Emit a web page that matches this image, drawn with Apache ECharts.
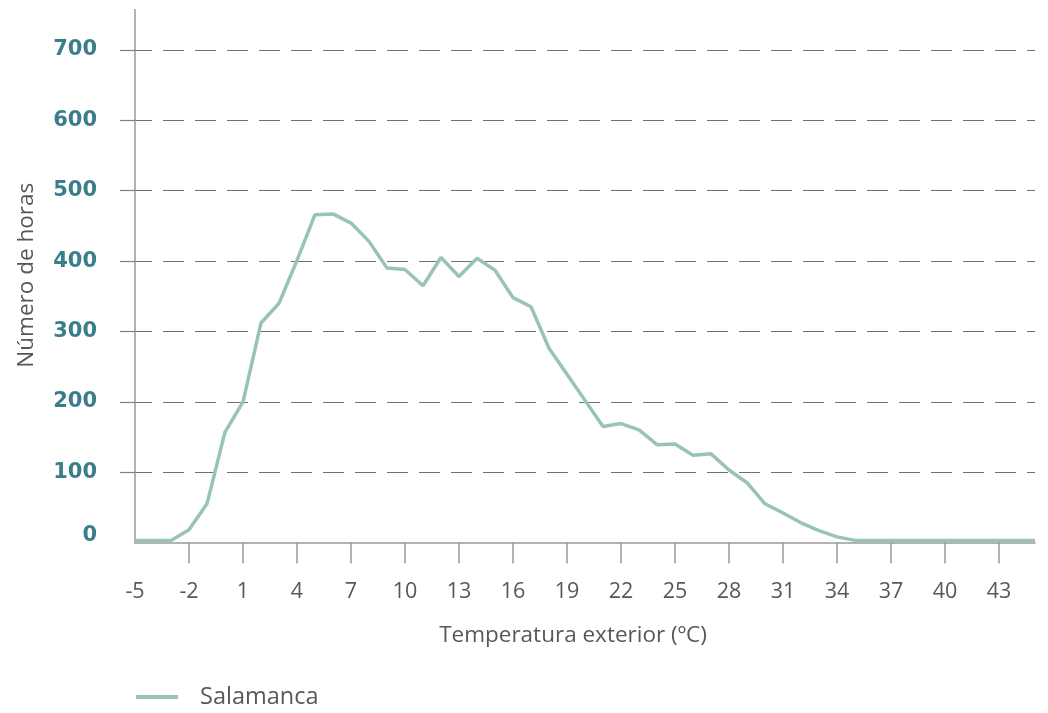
<!DOCTYPE html>
<html>
<head>
<meta charset="utf-8">
<style>
  html, body { margin: 0; padding: 0; background: #ffffff; }
  #chart { width: 1048px; height: 713px; }
</style>
<script src="https://cdn.jsdelivr.net/npm/echarts@6/dist/echarts.min.js"></script>
</head>
<body>
<div id="chart"></div>
<script>
// Outdoor temperature (ºC), one step per degree
const temperatures = [
  -5, -4, -3, -2, -1, 0, 1, 2, 3, 4,
  5, 6, 7, 8, 9, 10, 11, 12, 13, 14,
  15, 16, 17, 18, 19, 20, 21, 22, 23, 24,
  25, 26, 27, 28, 29, 30, 31, 32, 33, 34,
  35, 36, 37, 38, 39, 40, 41, 42, 43, 44, 45
];

// Hours per year at each temperature – Salamanca
const salamancaHours = [
  3, 3, 3, 18, 55, 157, 200, 312, 340, 401,
  466, 467, 454, 428, 390, 388, 365, 405, 378, 404,
  387, 348, 335, 276, 239, 202, 165, 169, 160, 139,
  140, 124, 126, 103, 85, 55, 42, 28, 17, 8,
  3, 3, 3, 3, 3, 3, 3, 3, 3, 3, 3
];

const yTicks = [0, 100, 200, 300, 400, 500, 600, 700];

const seriesName = 'Salamanca';
const xAxisTitle = 'Temperatura exterior (ºC)';
const yAxisTitle = 'Número de horas';

const lineColor = '#98c4b5';
const axisGray = '#9a9a9a';
const textGray = '#585858';
const valueTeal = '#3b7e8b';
const baseFont = '"Open Sans", Roboto, sans-serif';
const numberFont = '"DejaVu Sans", sans-serif';

const chart = echarts.init(document.getElementById('chart'), null, { renderer: 'canvas' });

const gridLeft = 135, gridTop = 50, gridRight = 13, gridBottom = 170.5;

chart.setOption({
  animation: false,
  backgroundColor: '#ffffff',
  grid: { left: gridLeft, right: gridRight, top: gridTop, bottom: gridBottom, containLabel: false },
  legend: {
    left: 136,
    top: 685,
    padding: 0,
    icon: 'rect',
    itemWidth: 42,
    itemHeight: 4,
    data: [seriesName],
    textStyle: { fontFamily: baseFont, fontSize: 23.5, color: textGray, padding: [0, 0, 0, 17] }
  },
  xAxis: {
    type: 'category',
    data: temperatures.map(String),
    boundaryGap: false,
    name: xAxisTitle,
    nameLocation: 'middle',
    nameGap: 82,
    nameTextStyle: { fontFamily: baseFont, fontSize: 22.5, color: textGray, padding: [0, 24, 0, 0] },
    axisLine: { show: true, lineStyle: { color: axisGray, width: 1.5 } },
    axisTick: {
      show: true,
      length: 21,
      interval: (i) => i > 0 && i % 3 === 0 && i < temperatures.length - 1,
      lineStyle: { color: axisGray, width: 1.5 }
    },
    axisLabel: {
      interval: (i) => i % 3 === 0 && i < temperatures.length - 1,
      margin: 38,
      fontFamily: baseFont,
      fontSize: 21.5,
      color: textGray
    },
    splitLine: { show: false }
  },
  yAxis: {
    type: 'value',
    min: yTicks[0],
    max: yTicks[yTicks.length - 1],
    interval: 100,
    name: yAxisTitle,
    nameLocation: 'middle',
    nameRotate: 90,
    nameGap: 97,
    nameTextStyle: { fontFamily: baseFont, fontSize: 22.5, color: textGray, padding: [0, 0, 0, 42] },
    axisLine: { show: true, lineStyle: { color: axisGray, width: 1.5 } },
    axisTick: {
      show: true,
      length: 15,
      customValues: yTicks.slice(1),
      lineStyle: { color: '#808080', width: 1.2 }
    },
    axisLabel: {
      margin: 38,
      fontFamily: numberFont,
      fontSize: 21,
      fontWeight: 'bold',
      color: valueTeal,
      formatter: (v) => (v === 0 ? '{z|0}' : '{n|' + v + '}'),
      rich: {
        z: { fontFamily: numberFont, fontSize: 21, fontWeight: 'bold', color: valueTeal, padding: [0, 0, 14, 0] },
        n: { fontFamily: numberFont, fontSize: 21, fontWeight: 'bold', color: valueTeal }
      }
    },
    splitLine: {
      show: true,
      lineStyle: { color: '#707070', width: 1.2, type: [21, 11], dashOffset: 4 }
    }
  },
  graphic: [
    {
      // vertical axis continues above the 700 level
      type: 'line',
      shape: { x1: gridLeft, y1: 9, x2: gridLeft, y2: gridTop },
      style: { stroke: axisGray, lineWidth: 1.5 },
      silent: true
    }
  ],
  series: [
    {
      name: seriesName,
      type: 'line',
      data: salamancaHours,
      symbol: 'none',
      showSymbol: false,
      smooth: false,
      lineStyle: { color: lineColor, width: 3.5 },
      itemStyle: { color: lineColor },
      z: 3
    }
  ]
});
</script>
</body>
</html>
